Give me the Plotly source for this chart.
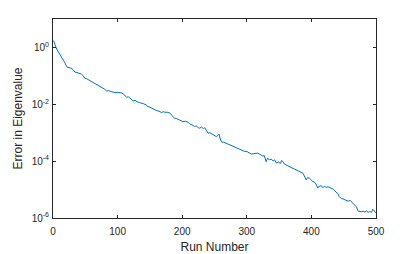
import plotly.graph_objects as go

# Run numbers and log10 of the eigenvalue error
runs = [
    1, 3, 5, 8, 10, 12, 15, 18, 20, 22, 25, 28, 31, 34, 37, 40, 44, 47, 49, 52,
    55, 59, 62, 65, 68, 70, 73, 76, 80, 83, 86, 90, 93, 96, 100, 103, 106, 109, 111, 114,
    117, 120, 124, 127, 130, 134, 137, 140, 144, 147, 150, 153, 157, 160, 164, 168, 171, 173, 177, 181,
    184, 188, 191, 194, 197, 201, 205, 209, 212, 215, 219, 222, 225, 227, 230, 233, 235, 238, 240, 243,
    246, 250, 253, 255, 257, 259, 261, 264, 267, 270, 274, 277, 280, 284, 287, 290, 294, 297, 300, 303,
    307, 310, 313, 317, 320, 323, 325, 327, 330, 332, 335, 338, 341, 343, 346, 349, 352, 354, 356, 358,
    361, 364, 367, 370, 374, 377, 380, 384, 387, 389, 392, 394, 397, 400, 402, 405, 407, 410, 412, 415,
    418, 420, 423, 426, 429, 431, 434, 436, 438, 441, 443, 446, 449, 452, 454, 457, 460, 462, 465, 467,
    470, 472, 475, 477, 480, 483, 485, 488, 490, 493, 495, 497, 500,
]
log_error = [
    0.24, 0.10, -0.02, -0.15, -0.22, -0.33, -0.42, -0.52, -0.62, -0.70,
    -0.71, -0.73, -0.78, -0.87, -0.88, -0.91, -0.94, -1.00, -1.08, -1.10,
    -1.14, -1.20, -1.22, -1.28, -1.31, -1.34, -1.36, -1.43, -1.47, -1.53,
    -1.52, -1.55, -1.57, -1.59, -1.58, -1.59, -1.60, -1.64, -1.70, -1.75,
    -1.74, -1.80, -1.88, -1.86, -1.91, -1.94, -1.95, -1.98, -2.02, -2.08,
    -2.10, -2.14, -2.18, -2.22, -2.24, -2.29, -2.26, -2.28, -2.28, -2.31,
    -2.39, -2.49, -2.50, -2.54, -2.56, -2.61, -2.60, -2.63, -2.70, -2.72,
    -2.78, -2.76, -2.83, -2.84, -2.80, -2.86, -2.82, -2.95, -3.02, -3.00,
    -3.05, -3.10, -3.14, -3.10, -3.05, -3.22, -3.33, -3.33, -3.36, -3.39,
    -3.43, -3.45, -3.48, -3.52, -3.55, -3.57, -3.62, -3.66, -3.66, -3.70,
    -3.75, -3.74, -3.73, -3.72, -3.76, -3.79, -3.82, -3.80, -4.02, -3.90,
    -3.95, -3.93, -4.00, -3.95, -4.07, -4.03, -4.08, -3.98, -4.02, -4.10,
    -4.14, -4.19, -4.21, -4.24, -4.28, -4.31, -4.34, -4.40, -4.43, -4.52,
    -4.66, -4.58, -4.60, -4.66, -4.72, -4.74, -4.80, -4.95, -4.88, -4.87,
    -4.93, -4.89, -4.92, -4.90, -4.93, -4.95, -4.99, -5.04, -5.09, -5.15,
    -5.24, -5.31, -5.33, -5.35, -5.37, -5.41, -5.38, -5.43, -5.47, -5.54,
    -5.62, -5.75, -5.76, -5.78, -5.76, -5.79, -5.75, -5.80, -5.77, -5.80,
    -5.69, -5.76, -5.83,
]
error = [10 ** v for v in log_error]

y_tickvals = [1e-6, 1e-4, 1e-2, 1]
y_ticktext = ["10<sup>-6</sup>", "10<sup>-4</sup>", "10<sup>-2</sup>", "10<sup>0</sup>"]
x_tickvals = [0, 100, 200, 300, 400, 500]

axis_color = "#262626"

fig = go.Figure()
fig.add_trace(
    go.Scatter(
        x=runs,
        y=error,
        mode="lines",
        line=dict(color="#0072BD", width=1),
        showlegend=False,
    )
)

# page body adds an 8px offset, so margins are shifted to compensate
fig.update_layout(
    width=415,
    height=254,
    margin=dict(l=45, r=47, t=11, b=44),
    paper_bgcolor="white",
    plot_bgcolor="white",
    font=dict(family="Liberation Sans, Arial, sans-serif", size=10, color=axis_color),
)
fig.update_xaxes(
    range=[0, 500],
    tickvals=x_tickvals,
    ticks="inside",
    ticklen=3,
    tickcolor=axis_color,
    ticklabelstandoff=4,
    showline=True,
    linecolor=axis_color,
    linewidth=1,
    mirror="ticks",
    showgrid=False,
    zeroline=False,
    automargin=False,
    title=dict(text="Run Number", font=dict(size=12), standoff=6),
)
fig.update_yaxes(
    type="log",
    range=[-6, 1],
    tickvals=y_tickvals,
    ticktext=y_ticktext,
    ticks="inside",
    ticklen=3,
    tickcolor=axis_color,
    ticklabelstandoff=1,
    showline=True,
    linecolor=axis_color,
    linewidth=1,
    mirror="ticks",
    showgrid=False,
    zeroline=False,
    automargin=False,
    title=dict(text="Error in Eigenvalue", font=dict(size=12), standoff=6),
)

fig.write_html("out.html")
